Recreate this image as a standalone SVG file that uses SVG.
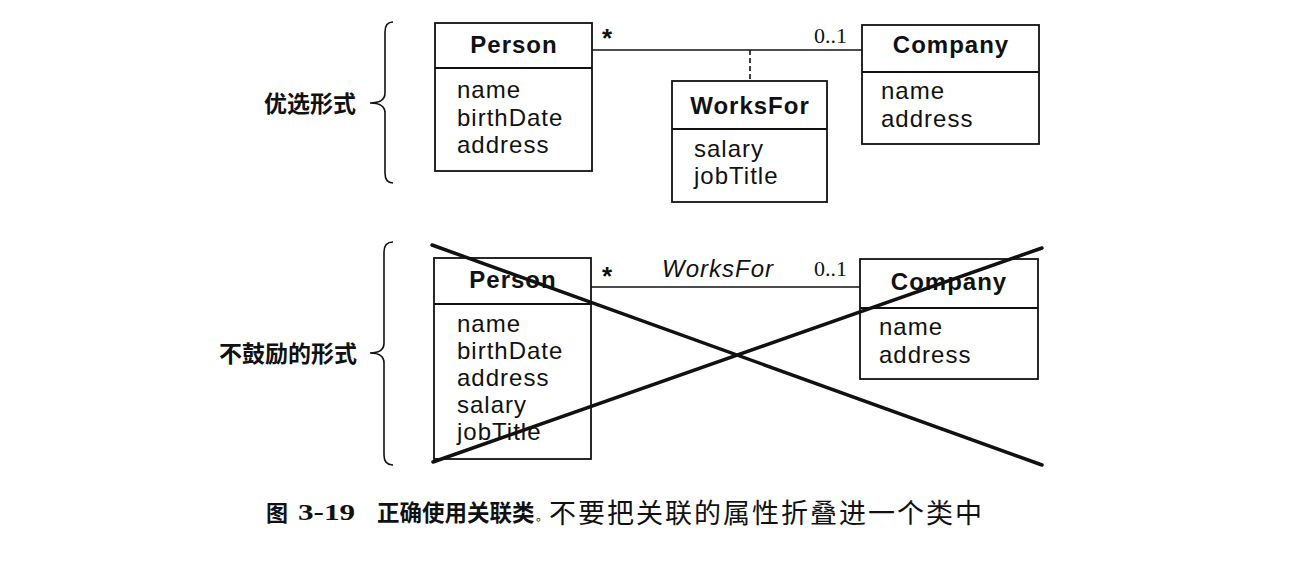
<svg xmlns="http://www.w3.org/2000/svg" width="1315" height="561" viewBox="0 0 1315 561">
<style>
.box{fill:#fff;stroke:#111;stroke-width:1.8}
.div{stroke:#111;stroke-width:1.8}
.title{font-family:"Liberation Sans",Arial,sans-serif;font-weight:bold;font-size:24px;letter-spacing:1px;text-anchor:middle;fill:#111}
.attr{font-family:"Liberation Sans",Arial,sans-serif;font-size:24px;letter-spacing:1px;fill:#111}
.mult{font-family:"Liberation Serif","Times New Roman",serif;font-size:22px;fill:#111}
.star{font-family:"Liberation Sans",Arial,sans-serif;font-weight:bold;font-size:26px;fill:#111}
.assoc{stroke:#111;stroke-width:1.6;fill:none}
.brace{stroke:#111;stroke-width:1.6;fill:none}
.lbl{font-family:"Noto Sans CJK SC",sans-serif;font-weight:bold;font-size:23px;text-anchor:end;fill:#111}
.cap{font-family:"Noto Sans CJK SC",sans-serif;font-size:22px;fill:#111}
.cross{stroke:#111;stroke-width:3.5;stroke-linecap:round}
</style>
<rect width="1315" height="561" fill="#fff"/>

<!-- Preferred form -->
<g id="label-preferred">
<path class="brace" d="M393,22 Q385,22 385,32 L385,93 Q385,103 370,103 Q385,103 385,113 L385,173 Q385,183 393,183"/>
<text class="lbl" x="356" y="112">优选形式</text>
</g>

<g id="connectors-top">
<line class="assoc" x1="592" y1="50" x2="862" y2="50"/>
<line class="assoc" x1="750" y1="50" x2="750" y2="81" stroke-dasharray="5,3"/>
<text class="star" x="602" y="47">*</text>
<text class="mult" x="814" y="43">0..1</text>
</g>

<g id="person-top">
<rect class="box" x="435" y="23" width="157" height="148"/>
<line class="div" x1="435" y1="68" x2="592" y2="68"/>
<text class="title" x="514" y="53">Person</text>
<text class="attr" x="457" y="98">name</text>
<text class="attr" x="457" y="125.5">birthDate</text>
<text class="attr" x="457" y="153">address</text>
</g>

<g id="worksfor-top">
<rect class="box" x="672" y="81" width="155" height="121"/>
<line class="div" x1="672" y1="129" x2="827" y2="129"/>
<text class="title" x="750" y="114">WorksFor</text>
<text class="attr" x="694" y="157">salary</text>
<text class="attr" x="694" y="184">jobTitle</text>
</g>

<g id="company-top">
<rect class="box" x="862" y="25" width="177" height="119"/>
<line class="div" x1="862" y1="72" x2="1039" y2="72"/>
<text class="title" x="951" y="53">Company</text>
<text class="attr" x="881" y="99">name</text>
<text class="attr" x="881" y="127">address</text>
</g>

<!-- Discouraged form -->
<g id="label-discouraged">
<path class="brace" d="M393,242 Q384,242 384,252 L384,343 Q384,353 370,353 Q384,353 384,363 L384,455 Q384,465 393,465"/>
<text class="lbl" x="357" y="362">不鼓励的形式</text>
</g>

<g id="connectors-bottom">
<line class="assoc" x1="591" y1="287" x2="860" y2="287"/>
<text class="star" x="602" y="285">*</text>
<text class="attr" x="662" y="277" font-style="italic" font-size="25">WorksFor</text>
<text class="mult" x="814" y="276">0..1</text>
</g>

<g id="person-bottom">
<rect class="box" x="434" y="258" width="157" height="201"/>
<line class="div" x1="434" y1="304" x2="591" y2="304"/>
<text class="title" x="513" y="288">Person</text>
<text class="attr" x="457" y="332">name</text>
<text class="attr" x="457" y="359">birthDate</text>
<text class="attr" x="457" y="386">address</text>
<text class="attr" x="457" y="413">salary</text>
<text class="attr" x="457" y="440">jobTitle</text>
</g>

<g id="company-bottom">
<rect class="box" x="860" y="259" width="178" height="120"/>
<line class="div" x1="860" y1="308" x2="1038" y2="308"/>
<text class="title" x="949" y="290">Company</text>
<text class="attr" x="879" y="335">name</text>
<text class="attr" x="879" y="363">address</text>
</g>

<g id="cross">
<line class="cross" x1="432" y1="245" x2="1042" y2="465"/>
<line class="cross" x1="433" y1="462" x2="1042" y2="248"/>
</g>

<!-- Caption -->
<g id="caption">
<text class="cap" x="266" y="521" font-weight="bold" font-size="23">图</text>
<text x="298" y="520" font-family="'Liberation Serif','Times New Roman',serif" font-weight="bold" font-size="24" textLength="57" lengthAdjust="spacingAndGlyphs" fill="#111">3-19</text>
<text class="cap" x="377" y="521"><tspan font-weight="bold" font-size="22.5">正确使用关联类</tspan><tspan x="536" font-size="12">。</tspan><tspan x="549" y="523" font-size="27" letter-spacing="2">不要把关联的属性折叠进一个类中</tspan></text>
</g>
</svg>
